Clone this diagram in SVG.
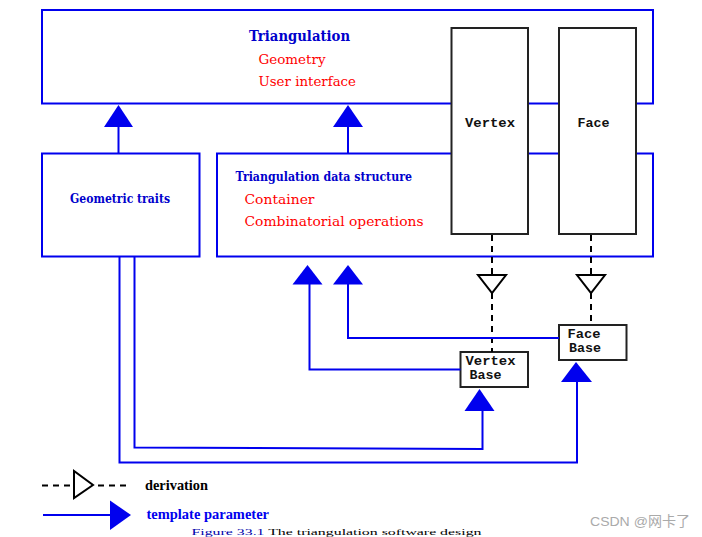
<svg xmlns="http://www.w3.org/2000/svg" width="702" height="537" viewBox="0 0 702 537">
<style>
.bx{fill:none;stroke:#0000ee;stroke-width:2}
.cls{fill:#fff;stroke:#222;stroke-width:2}
.ln{fill:none;stroke:#0000ee;stroke-width:2}
.dl{fill:none;stroke:#000;stroke-width:2;stroke-dasharray:6,5}
.ta{fill:#0000ee;stroke:none}
.ha{fill:#fff;stroke:#000;stroke-width:2}
.tt{font-family:"DejaVu Serif",serif;font-weight:bold;fill:#0000cc}
.rt{font-family:"DejaVu Serif",serif;fill:#ff0000;font-size:13.5px}
.mo{font-family:"Liberation Mono","Courier New",monospace;font-weight:bold;font-size:13px;fill:#111}
.lg{font-family:"Liberation Serif","Times New Roman",serif;font-weight:bold;font-size:14.5px}
</style>
<rect width="702" height="537" fill="#fff"/>
<g id="triangulation">
<rect class="bx" x="42" y="10" width="611" height="93.5"/>
<text class="tt" x="249" y="41" font-size="14.5" textLength="101" lengthAdjust="spacingAndGlyphs">Triangulation</text>
<text class="rt" x="258.5" y="64" textLength="67" lengthAdjust="spacingAndGlyphs">Geometry</text>
<text class="rt" x="258.5" y="86" textLength="97.5" lengthAdjust="spacingAndGlyphs">User interface</text>
</g>
<g id="tds">
<rect class="bx" x="217" y="153.5" width="436" height="103"/>
<text class="tt" x="235.5" y="181" font-size="13.5" textLength="176.5" lengthAdjust="spacingAndGlyphs">Triangulation data structure</text>
<text class="rt" x="244.5" y="203.5" textLength="70" lengthAdjust="spacingAndGlyphs">Container</text>
<text class="rt" x="244.5" y="226" textLength="179" lengthAdjust="spacingAndGlyphs">Combinatorial operations</text>
</g>
<g id="geometric-traits">
<rect class="bx" x="42" y="153.5" width="157.5" height="103"/>
<text class="tt" x="70" y="203" font-size="13" textLength="100" lengthAdjust="spacingAndGlyphs">Geometric traits</text>
</g>
<g id="vertex">
<rect class="cls" x="451.5" y="28" width="76.5" height="206"/>
<text class="mo" x="465" y="127" textLength="50" lengthAdjust="spacingAndGlyphs">Vertex</text>
</g>
<g id="face">
<rect class="cls" x="559" y="28" width="77" height="206"/>
<text class="mo" x="577.5" y="127" textLength="32" lengthAdjust="spacingAndGlyphs">Face</text>
</g>
<g id="vertex-base">
<rect class="cls" x="460.5" y="352" width="67.5" height="35"/>
<text class="mo" x="465.5" y="364.5" textLength="50" lengthAdjust="spacingAndGlyphs">Vertex</text>
<text class="mo" x="469.5" y="379" textLength="32" lengthAdjust="spacingAndGlyphs">Base</text>
</g>
<g id="face-base">
<rect class="cls" x="559" y="325" width="67.5" height="35"/>
<text class="mo" x="567.5" y="337.5" textLength="33" lengthAdjust="spacingAndGlyphs">Face</text>
<text class="mo" x="569" y="352" textLength="32" lengthAdjust="spacingAndGlyphs">Base</text>
</g>
<g id="connectors">
<line class="ln" x1="118.5" y1="153.5" x2="118.5" y2="125"/>
<polygon class="ta" points="118.5,105 104,127 133,127"/>
<line class="ln" x1="348" y1="153.5" x2="348" y2="125"/>
<polygon class="ta" points="348,105 333,127 363,127"/>
<line class="dl" x1="492" y1="235" x2="492" y2="275"/>
<line class="dl" x1="492" y1="293" x2="492" y2="352"/>
<polygon class="ha" points="478,275 506,275 492,293"/>
<line class="dl" x1="591" y1="235" x2="591" y2="275"/>
<line class="dl" x1="591" y1="293" x2="591" y2="325"/>
<polygon class="ha" points="577,275 605,275 591,293"/>
<polyline class="ln" points="460.5,369.5 309.5,369.5 309.5,283"/>
<polygon class="ta" points="307.5,265 292.5,284.5 322.5,284.5"/>
<polyline class="ln" points="559,338 348,338 348,283"/>
<polygon class="ta" points="348,265 333,284.5 363,284.5"/>
<polyline class="ln" points="134.5,257 134.5,447.5 482.5,449 482.5,409"/>
<polygon class="ta" points="479.5,389 464.5,411 494.5,411"/>
<polyline class="ln" points="119.5,257 119.5,462.5 577,462.5 577,380"/>
<polygon class="ta" points="576,362 561,382 592,382"/>
</g>
<g id="legend">
<line class="dl" x1="42" y1="485.5" x2="73.5" y2="485.5"/>
<polygon class="ha" points="74,471 74,498 93,485"/>
<line class="dl" x1="98" y1="485.5" x2="131" y2="485.5"/>
<text class="lg" x="145" y="490" fill="#000" textLength="63" lengthAdjust="spacingAndGlyphs">derivation</text>
<line class="ln" x1="43" y1="515" x2="112" y2="515"/>
<polygon class="ta" points="110,500.5 110,530 131,515"/>
<text class="lg" x="146.5" y="519" fill="#0000ee" textLength="122.5" lengthAdjust="spacingAndGlyphs">template parameter</text>
</g>
<text x="191.5" y="534.5" font-family="Liberation Serif, serif" font-size="7.5" fill="#000" textLength="290" lengthAdjust="spacingAndGlyphs"><tspan fill="#0000aa">Figure 33.1</tspan> The triangulation software design</text>
<text x="590" y="525.5" font-family="'Liberation Sans','Noto Sans CJK SC',sans-serif" font-size="13.5" fill="#aaa" textLength="100" lengthAdjust="spacingAndGlyphs">CSDN @网卡了</text>
</svg>
